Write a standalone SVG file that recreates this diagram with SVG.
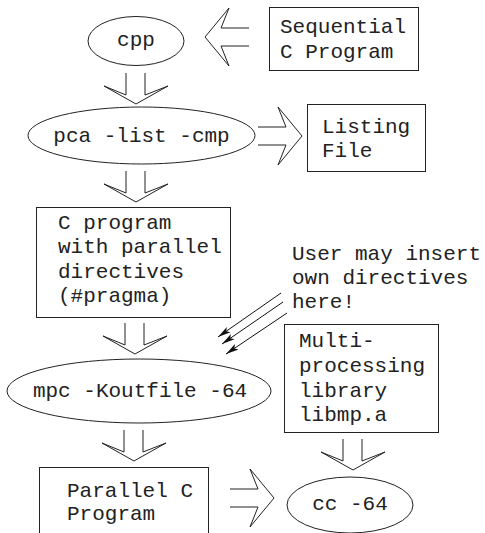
<svg xmlns="http://www.w3.org/2000/svg" width="485" height="533" viewBox="0 0 485 533">
<style>
.s{fill:#fff;stroke:#222;stroke-width:1}
.h{fill:#fff;stroke:#222;stroke-width:1;stroke-linejoin:miter}
.t{font-family:"Liberation Mono","Courier New",monospace;font-size:21px;fill:#222}
.m{text-anchor:middle}
.p{stroke:#111;stroke-width:1;fill:none}
</style>
<defs>
<path id="down" d="M-10,0 V22 L-32,13 L0,31 L32,13 L9,22 V0"/>
<path id="right" d="M0,-9 H28 L20,-29 L44,0 L20,29 L28,9 H0"/>
<marker id="ah" markerWidth="14" markerHeight="8" refX="13" refY="4" orient="auto" markerUnits="userSpaceOnUse">
<path d="M0,0.8 L13,4 L0,7.2 L3,4 Z" fill="#111"/>
</marker>
</defs>
<rect width="485" height="533" fill="#fff"/>
<g id="connectors">
<use href="#right" class="h" transform="translate(249,37) scale(-1,1)"/>
<use href="#down" class="h" transform="translate(136,73)"/>
<use href="#right" class="h" transform="translate(258,136)"/>
<use href="#down" class="h" transform="translate(136,171)"/>
<use href="#down" class="h" transform="translate(135,323)"/>
<use href="#down" class="h" transform="translate(134,430)"/>
<use href="#right" class="h" transform="translate(230,498)"/>
<use href="#down" class="h" transform="translate(353,439)"/>
<line class="p" x1="281" y1="293" x2="218" y2="337" marker-end="url(#ah)"/>
<line class="p" x1="283" y1="302" x2="222" y2="344" marker-end="url(#ah)"/>
<line class="p" x1="287" y1="313" x2="226" y2="354" marker-end="url(#ah)"/>
</g>
<g id="cpp">
<ellipse class="s" cx="136" cy="41" rx="48" ry="24.5"/>
<text class="t m" x="136" y="46">cpp</text>
</g>
<g id="sequential">
<rect class="s" x="269.5" y="7.5" width="149" height="63"/>
<text class="t" x="280" y="33">Sequential</text>
<text class="t" x="280" y="58">C Program</text>
</g>
<g id="pca">
<ellipse class="s" cx="141.5" cy="135.5" rx="113.5" ry="28.5"/>
<text class="t m" x="141.5" y="142">pca -list -cmp</text>
</g>
<g id="listing">
<rect class="s" x="307.5" y="104.5" width="118" height="67"/>
<text class="t" x="322" y="133">Listing</text>
<text class="t" x="322" y="157">File</text>
</g>
<g id="cprogram">
<rect class="s" x="36.5" y="207.5" width="194" height="110"/>
<text class="t" x="58" y="229">C program</text>
<text class="t" x="58" y="253">with parallel</text>
<text class="t" x="58" y="278">directives</text>
<text class="t" x="58" y="302">(#pragma)</text>
</g>
<g id="note">
<text class="t" x="292" y="260">User may insert</text>
<text class="t" x="292" y="284">own directives</text>
<text class="t" x="292" y="308">here!</text>
</g>
<g id="library">
<rect class="s" x="284.5" y="324.5" width="154" height="108"/>
<text class="t" x="299" y="347">Multi-</text>
<text class="t" x="299" y="372">processing</text>
<text class="t" x="299" y="397">library</text>
<text class="t" x="299" y="421">libmp.a</text>
</g>
<g id="mpc">
<ellipse class="s" cx="139" cy="391" rx="132" ry="32"/>
<text class="t m" x="140" y="397">mpc -Koutfile -64</text>
</g>
<g id="parallel">
<rect class="s" x="39.5" y="467.5" width="169" height="80"/>
<text class="t" x="67" y="497">Parallel C</text>
<text class="t" x="67" y="520">Program</text>
</g>
<g id="cc">
<ellipse class="s" cx="350" cy="505" rx="63" ry="28"/>
<text class="t m" x="350" y="510">cc -64</text>
</g>
</svg>
